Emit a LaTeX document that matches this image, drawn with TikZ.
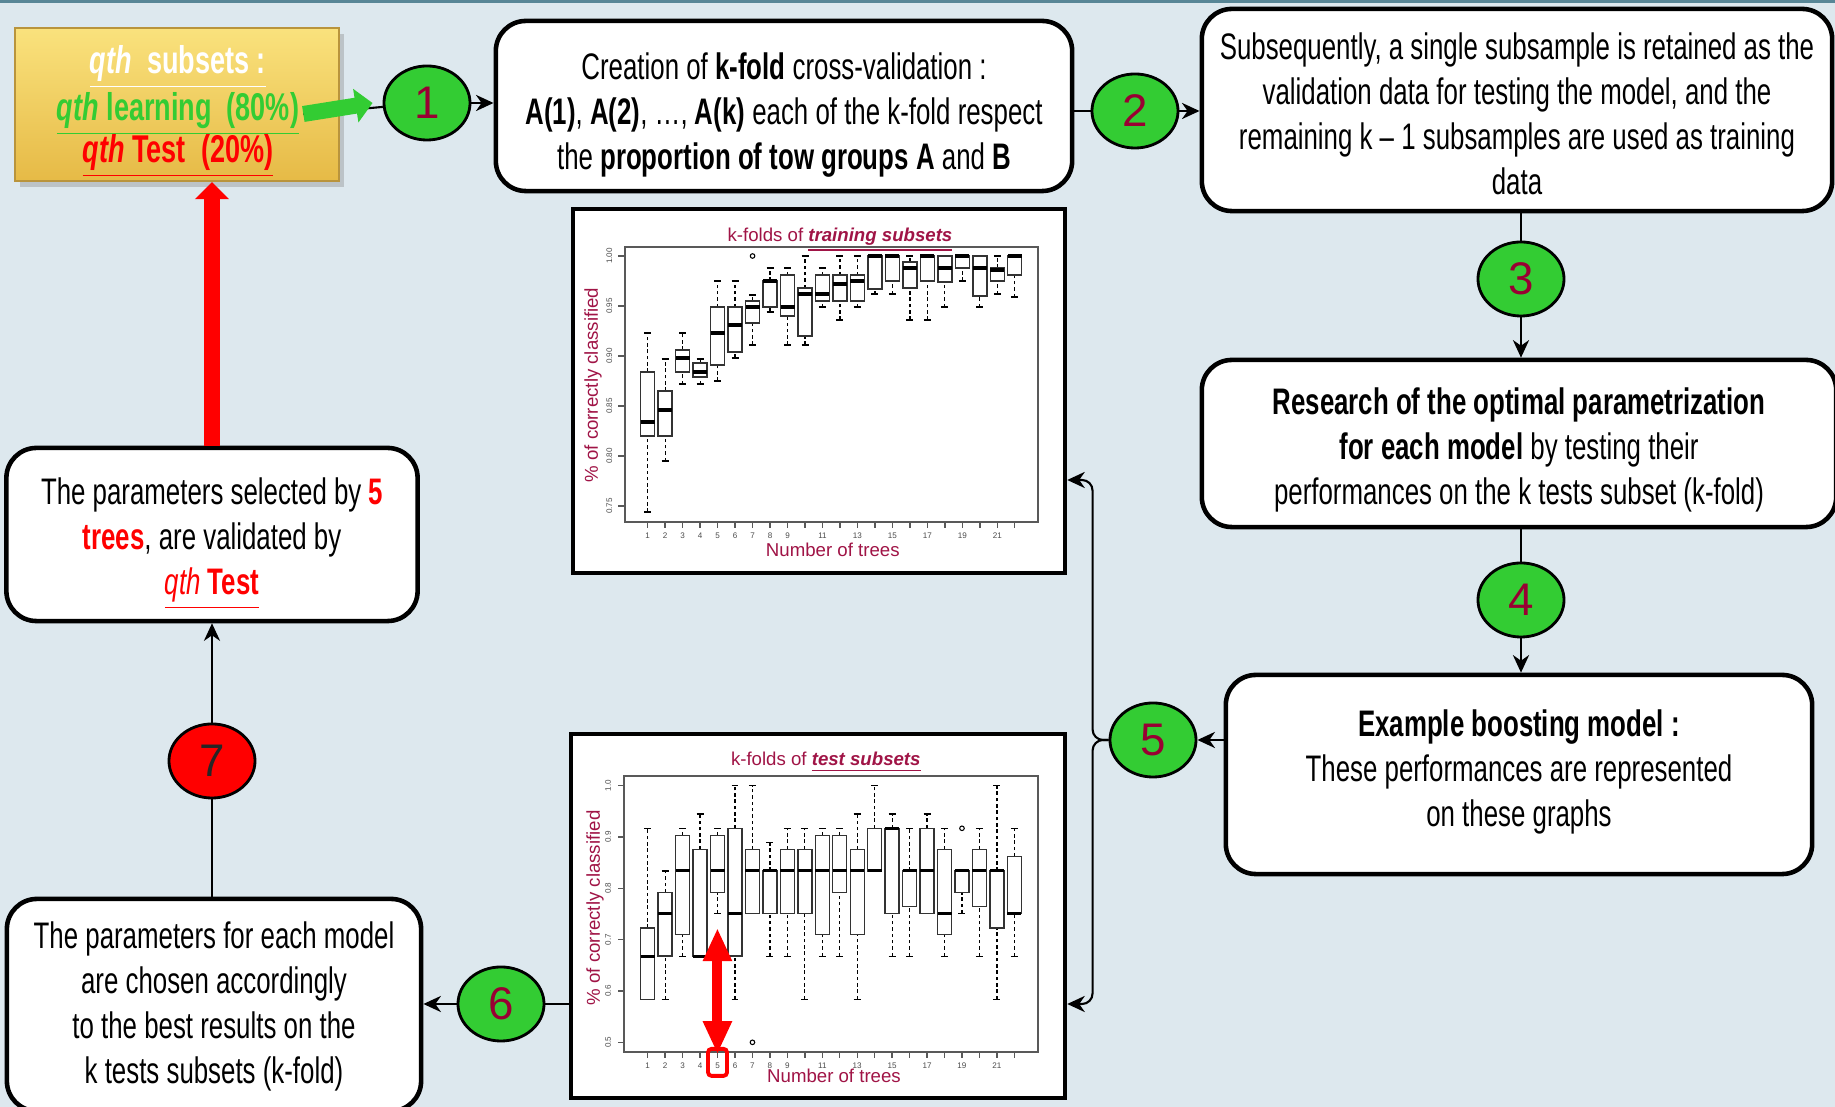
\documentclass[tikz,border=0pt]{standalone}
\usepackage{fontspec}
\newfontfamily\agency{Liberation Sans}[FakeStretch=0.7]
\newfontfamily\plotfont{Liberation Sans}
\usetikzlibrary{shapes.geometric,arrows.meta,shadows,positioning}

\definecolor{bgblue}{RGB}{221,232,238}
\definecolor{topline}{RGB}{88,134,150}
\definecolor{numgreen}{RGB}{51,204,51}
\definecolor{nummaroon}{RGB}{153,0,51}
\definecolor{plotred}{RGB}{160,20,70}
\definecolor{goldtop}{RGB}{250,226,125}
\definecolor{goldbot}{RGB}{230,186,70}
\definecolor{goldedge}{RGB}{185,148,60}

\tikzset{
  txtbox/.style={draw, line width=1.3pt, rounded corners=0.3cm, fill=white, inner sep=0pt},
  boxtext/.style={align=center, inner sep=0pt, font=\agency\fontsize{10.5}{12.8}\selectfont},
  num/.style={ellipse, draw, line width=0.8pt, fill=numgreen, minimum width=0.86cm,
    minimum height=0.74cm, inner sep=0pt, text=nummaroon, font=\plotfont\fontsize{13}{13}\selectfont},
  chart/.style={draw, line width=1.2pt, fill=white, inner sep=0pt},
  conn/.style={line width=0.6pt},
  arr/.style={conn, -{Stealth[length=5pt, width=4.6pt, inset=1.6pt]}},
  ylwbox/.style={draw=goldedge, line width=0.6pt, top color=goldtop, bottom color=goldbot,
    drop shadow={opacity=0.35, shadow xshift=0.05cm, shadow yshift=-0.06cm}},
  ylwtxt/.style={font=\agency\bfseries\fontsize{11}{12}\selectfont, inner sep=1pt},
  grarrow/.style={draw=numgreen, line width=0.16cm, -{Triangle[length=0.17cm, width=0.33cm]}},
  redarrow/.style={draw=red, line width=0.16cm, -{Triangle[length=0.17cm, width=0.33cm]}},
  redboth/.style={draw=red, line width=0.1cm, {Triangle[length=0.33cm, width=0.27cm]}-{Triangle[length=0.33cm, width=0.27cm]}},
  redframe/.style={draw=red, line width=1.1pt, rounded corners=1pt, minimum width=0.19cm, minimum height=0.27cm, inner sep=0pt},
  frameln/.style={line width=0.4pt, draw=black!65},
  bxln/.style={line width=0.4pt, draw=black!80},
  medln/.style={line width=0.9pt},
  whisk/.style={line width=0.35pt, dash pattern=on 1pt off 0.8pt},
  capln/.style={line width=0.35pt},
  outl/.style={circle, draw, line width=0.3pt, inner sep=0pt, minimum size=1.3pt},
  ytick/.style={rotate=90, font=\plotfont\fontsize{2.3}{2.3}\selectfont, text=black!70, inner sep=0pt},
  xtick/.style={font=\plotfont\fontsize{2.3}{2.3}\selectfont, text=black!70, inner sep=0pt},
  ptitle/.style={font=\plotfont\fontsize{5.3}{5.3}\selectfont, text=plotred, inner sep=0pt},
  plabel/.style={font=\plotfont\fontsize{5.3}{5.3}\selectfont, text=plotred, inner sep=0pt}
}

\begin{document}
\begin{tikzpicture}[x=0.01cm, y=-0.01cm]
  \useasboundingbox (0,0) rectangle (1835,1107);
  \fill[bgblue] (0,0) rectangle (1835,1107);
  \fill[topline] (0,0) rectangle (1835,3);
  \clip (0,0) rectangle (1835,1107);

  % qth subsets
  \node[ylwbox, minimum width=3.24cm, minimum height=1.53cm] (ylw) at (177,104.5) {};
  \node[ylwtxt, text=white] (ytop) at (178,67) {\underline{\textit{qth}\ \ subsets :}};
  \node[ylwtxt, text=numgreen] (ylrn) at (178,114) {\underline{\textit{qth} learning\ \ (80\%)}};
  \node[ylwtxt, text=red] (ytst) at (178,156) {\underline{\textit{qth} Test\ \ (20\%)}};

  % text boxes
  \node[txtbox, minimum width=5.76cm, minimum height=1.70cm] (kfold) at (784,106) {};
  \node[boxtext] (kfoldtxt) at ([yshift=-0.094cm]kfold.center)
    {Creation of \textbf{k-fold} cross-validation :\\
     \textbf{A(1)}, \textbf{A(2)}, …, \textbf{A(k)} each of the k-fold respect\\
     the \textbf{proportion of tow groups A} and \textbf{B}};
  \node[txtbox, minimum width=6.30cm, minimum height=2.02cm] (subseq) at (1517,110) {};
  \node[boxtext] (subseqtxt) at ([yshift=-0.041cm]subseq.center)
    {Subsequently, a single subsample is retained as the\\
     validation data for testing the model, and the\\
     remaining k – 1 subsamples are used as training\\
     data};
  \node[txtbox, minimum width=6.34cm, minimum height=1.67cm] (research) at (1519,443.5) {};
  \node[boxtext] (researchtxt) at ([yshift=-0.064cm]research.center)
    {\textbf{Research of the optimal parametrization}\\
     \textbf{for each model} by testing their\\
     performances on the k tests subset (k-fold)};
  \node[txtbox, minimum width=5.86cm, minimum height=1.99cm] (example) at (1519,774.5) {};
  \node[boxtext] (exampletxt) at ([yshift=0.029cm]example.center)
    {\textbf{Example boosting model :}\\
     These performances are represented\\
     on these graphs};
  \node[txtbox, minimum width=4.11cm, minimum height=1.73cm] (valid) at (212,534.5) {};
  \node[boxtext] (validtxt) at ([yshift=-0.094cm]valid.center)
    {The parameters selected by \textcolor{red}{\textbf{5}}\\
     \textcolor{red}{\textbf{trees}}, are validated by\\
     \textcolor{red}{\underline{\textit{qth} \textbf{Test}}}};
  \node[txtbox, minimum width=4.14cm, minimum height=2.12cm] (chosen) at (214,1005) {};
  \node[boxtext] (chosentxt) at ([yshift=-0.012cm]chosen.center)
    {The parameters for each model\\
     are chosen accordingly\\
     to the best results on the\\
     k tests subsets (k-fold)};

  % training chart
  \node[chart, minimum width=4.92cm, minimum height=3.64cm] (train) at (819,391) {};
  \begin{scope}[shift={(630.2,1256)}, xscale=17.48, yscale=-1000]
    \draw[frameln] (-0.3,1.009) rectangle (23.33,0.734);
    \foreach \v/\lab [count=\k] in {0.75/0.75, 0.80/0.80, 0.85/0.85, 0.90/0.90, 0.95/0.95, 1.00/1.00} {
      \draw[frameln] (-0.3,\v) -- (-0.7,\v);
      \node[ytick] (tya\k) at (-1.2,\v) {\lab};
    }
    \foreach \i in {1,...,22}
      \draw[frameln] (\i,0.734) -- (\i,0.728);
    \foreach \i in {1,...,9,11,13,15,17,19,21}
      \node[xtick] (txa\i) at (\i,0.720) {\i};
    \foreach \i/\wb/\bb/\md/\bt/\wt in {1/0.744/0.820/0.834/0.884/0.923, 2/0.795/0.820/0.846/0.865/0.897,
        3/0.872/0.884/0.898/0.906/0.923, 4/0.872/0.879/0.884/0.893/0.897, 5/0.875/0.891/0.923/0.949/0.975,
        6/0.898/0.904/0.931/0.949/0.975, 7/0.911/0.933/0.949/0.955/0.961, 8/0.944/0.949/0.975/0.975/0.988,
        9/0.911/0.940/0.949/0.981/0.988, 10/0.911/0.920/0.962/0.968/1.000, 11/0.949/0.955/0.962/0.981/0.988,
        12/0.936/0.955/0.972/0.981/1.000, 13/0.949/0.955/0.975/0.981/1.000, 14/0.962/0.967/1.000/1.000/1.000,
        15/0.962/0.975/1.000/1.000/1.000, 16/0.936/0.968/0.988/0.994/1.000, 17/0.936/0.975/1.000/1.000/1.000,
        18/0.949/0.974/0.988/1.000/1.000, 19/0.975/0.988/1.000/1.000/1.000, 20/0.949/0.960/0.988/1.000/1.000,
        21/0.962/0.975/0.986/0.988/1.000, 22/0.959/0.981/1.000/1.000/1.000} {
      \draw[whisk] (\i,\wb) -- (\i,\bb) (\i,\bt) -- (\i,\wt);
      \draw[capln] (\i-0.2,\wb) -- (\i+0.2,\wb) (\i-0.2,\wt) -- (\i+0.2,\wt);
      \draw[bxln] (\i-0.4,\bb) rectangle (\i+0.4,\bt);
      \draw[medln] (\i-0.4,\md) -- (\i+0.4,\md);
    }
    \node[outl] (otr7) at (7,1.000) {};
    \node[ptitle] (trtitle) at (12.0,1.016) {k-folds of \underline{\textbf{\textit{training subsets}}}};
    \node[plabel, rotate=90] (trylab) at (-2.13,0.871) {\% of correctly classified};
    \node[plabel] (trxlab) at (11.59,0.706) {Number of trees};
  \end{scope}

  % test chart
  \node[chart, minimum width=4.94cm, minimum height=3.64cm] (test) at (818,916) {};
  \begin{scope}[shift={(630.24,1299)}, xscale=17.46, yscale=-513.3]
    \draw[frameln] (-0.36,1.019) rectangle (23.35,0.481);
    \foreach \v/\lab [count=\k] in {0.5/0.5, 0.6/0.6, 0.7/0.7, 0.8/0.8, 0.9/0.9, 1.0/1.0} {
      \draw[frameln] (-0.36,\v) -- (-0.7,\v);
      \node[ytick] (tyb\k) at (-1.27,\v) {\lab};
    }
    \foreach \i in {1,...,22}
      \draw[frameln] (\i,0.481) -- (\i,0.4695);
    \foreach \i in {1,...,9,11,13,15,17,19,21}
      \node[xtick] (txb\i) at (\i,0.454) {\i};
    \foreach \i/\wb/\bb/\md/\bt/\wt in {1/0.584/0.584/0.668/0.723/0.917, 2/0.584/0.668/0.751/0.792/0.834,
        3/0.668/0.710/0.834/0.903/0.917, 4/0.668/0.668/0.668/0.876/0.945, 5/0.751/0.792/0.834/0.903/0.917,
        6/0.584/0.668/0.751/0.917/1.000, 7/0.751/0.751/0.834/0.876/1.000, 8/0.668/0.751/0.834/0.834/0.889,
        9/0.668/0.751/0.834/0.876/0.917, 10/0.584/0.751/0.834/0.876/0.917, 11/0.668/0.710/0.834/0.903/0.917,
        12/0.668/0.792/0.834/0.903/0.917, 13/0.584/0.710/0.834/0.876/0.945, 14/0.834/0.834/0.834/0.917/1.000,
        15/0.668/0.751/0.917/0.917/0.945, 16/0.668/0.765/0.834/0.834/0.917, 17/0.751/0.751/0.834/0.917/0.945,
        18/0.668/0.710/0.751/0.876/0.917, 19/0.751/0.792/0.834/0.834/0.834, 20/0.668/0.765/0.834/0.876/0.917,
        21/0.584/0.723/0.834/0.834/1.000, 22/0.668/0.751/0.751/0.862/0.917} {
      \draw[whisk] (\i,\wb) -- (\i,\bb) (\i,\bt) -- (\i,\wt);
      \draw[capln] (\i-0.2,\wb) -- (\i+0.2,\wb) (\i-0.2,\wt) -- (\i+0.2,\wt);
      \draw[bxln] (\i-0.4,\bb) rectangle (\i+0.4,\bt);
      \draw[medln] (\i-0.4,\md) -- (\i+0.4,\md);
    }
    \node[outl] (ote7) at (7,0.5) {};
    \node[outl] (ote19) at (19,0.917) {};
    \node[ptitle] (tetitle) at (11.2,1.046) {k-folds of \underline{\textbf{\textit{test subsets}}}};
    \node[plabel, rotate=90] (teylab) at (-2.02,0.762) {\% of correctly classified};
    \node[plabel] (texlab) at (11.67,0.434) {Number of trees};
    \node[redframe] (sel) at (5,0.461) {};
    \coordinate (peak) at (5,0.744);
    \draw[redboth] (sel.north) -- (peak);
  \end{scope}

  % steps
  \node[num] (c1) at (427,103) {1};
  \node[num] (c2) at (1135,111) {2};
  \node[num] (c3) at (1521,279) {3};
  \node[num] (c4) at (1521,600) {4};
  \node[num] (c5) at (1153,740) {5};
  \node[num] (c6) at (501,1004) {6};
  \node[num, fill=red, text=black!85] (c7) at (212,761) {7};

  % connectors
  \draw[conn] (ylrn.east) -- (c1);
  \draw[grarrow] (ylrn.east) -- ([xshift=-0.1cm]c1.west);
  \draw[arr] (c1) -- (c1 -| kfold.west);
  \draw[conn] (kfold.east |- c2) -- (c2);
  \draw[arr] (c2) -- (c2 -| subseq.west);
  \draw[conn] (c3) -- (c3 |- subseq.south);
  \draw[arr] (c3) -- (c3 |- research.north);
  \draw[conn] (c4) -- (c4 |- research.south);
  \draw[arr] (c4) -- (c4 |- example.north);
  \draw[arr] (example.west |- c5) -- (c5);
  \draw[arr, rounded corners=3pt] (c5.west) -- ++(-16,0) |- (train.east |- 0,480);
  \draw[arr, rounded corners=3pt] (c5.west) -- ++(-16,0) |- (test.east |- 0,1004);
  \draw[conn] (test.west |- c6) -- (c6);
  \draw[arr] (c6) -- (c6 -| chosen.east);
  \draw[conn] (c7) -- (c7 |- chosen.north);
  \draw[arr] (c7) -- (c7 |- valid.south);
  \draw[redarrow] (valid.north -| c7) -- (c7 |- ylw.south);
\end{tikzpicture}
\end{document}
